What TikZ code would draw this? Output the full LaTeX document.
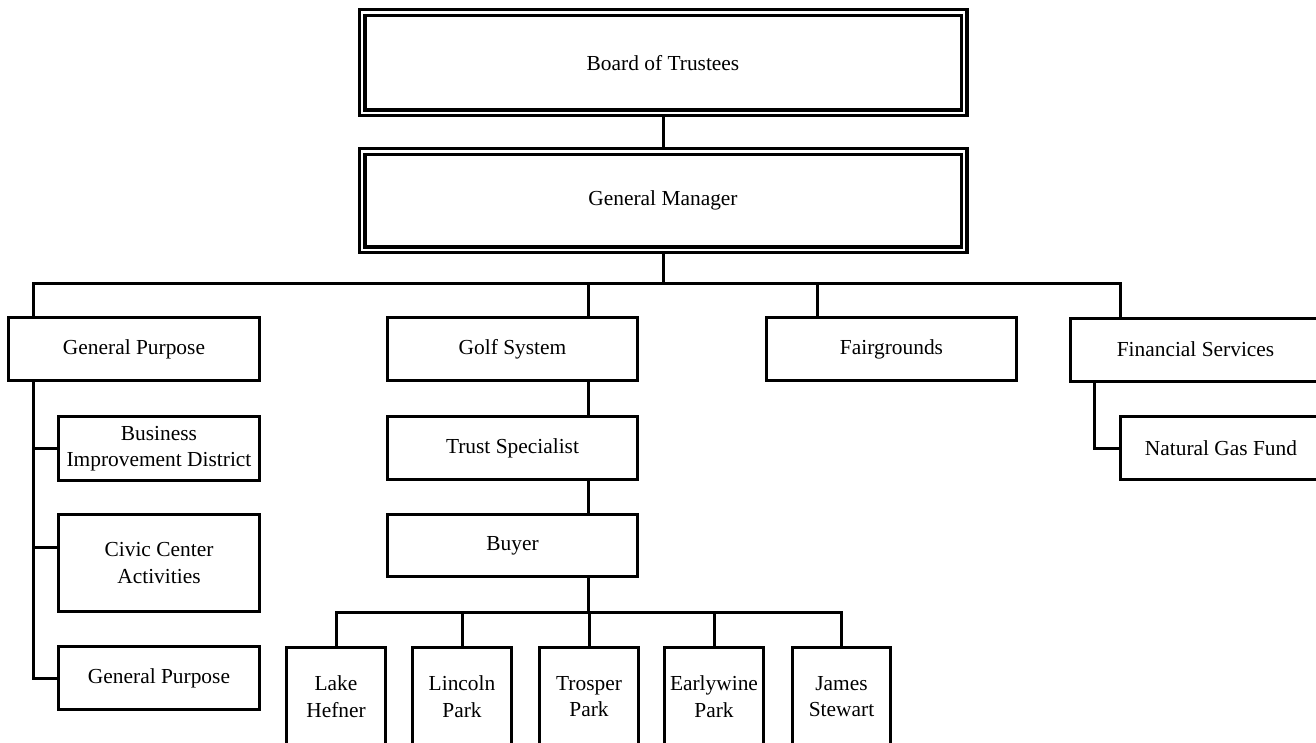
\documentclass[tikz,border=0pt]{standalone}
\usepackage{fontspec}
\setmainfont{Liberation Serif}
\usetikzlibrary{backgrounds}
\begin{document}
\begin{tikzpicture}[x=1pt,y=-1pt,
  box/.style={draw, line width=3pt, rectangle, align=center, inner sep=2pt,
    font=\fontsize{21.4}{26.5}\selectfont},
  dbox/.style={draw, line width=3.2pt, double, double distance=2.6pt, rectangle,
    align=center, inner sep=2pt, font=\fontsize{21.4}{26.5}\selectfont},
  conn/.style={line width=3pt, line join=miter}]
\clip (0,0) rectangle (1316,742);
% top
\node[dbox, minimum width=602pt, minimum height=100.5pt] (board) at (663,62.7) {Board of Trustees};
\node[dbox, minimum width=602pt, minimum height=98.3pt] (gm) at (663,200.8) {General Manager};
% level 2
\node[box, minimum width=251pt, minimum height=63pt] (gp) at (134,349) {General Purpose};
\node[box, minimum width=250pt, minimum height=63pt] (golf) at (512.5,349) {Golf System};
\node[box, minimum width=250pt, minimum height=63pt] (fair) at (891.5,349) {Fairgrounds};
\node[box, minimum width=250pt, minimum height=63pt] (fs) at (1195.5,349.5) {Financial Services};
% left column
\node[box, minimum width=201pt, minimum height=64pt] (bid) at (159,448.5) {Business\\Improvement District};
\node[box, minimum width=201pt, minimum height=97pt] (civic) at (159,563) {Civic Center\\Activities};
\node[box, minimum width=201pt, minimum height=63pt] (gp2) at (159,678) {General Purpose};
% golf column
\node[box, minimum width=250pt, minimum height=63pt] (trust) at (512.5,448) {Trust Specialist};
\node[box, minimum width=250pt, minimum height=62pt] (buyer) at (512.5,545.5) {Buyer};
% right
\node[box, minimum width=201pt, minimum height=63pt] (ngf) at (1221,448) {Natural Gas Fund};
% bottom row
\node[box, minimum width=99pt, minimum height=98.5pt] (lake) at (336,696.7) {Lake\\Hefner};
\node[box, minimum width=99pt, minimum height=98.5pt] (lincoln) at (462,696.7) {Lincoln\\Park};
\node[box, minimum width=99pt, minimum height=98.5pt] (trosper) at (589,696.7) {Trosper\\Park};
\node[box, minimum width=99pt, minimum height=98.5pt] (early) at (714,696.7) {Earlywine\\Park};
\node[box, minimum width=98pt, minimum height=98.5pt] (james) at (841.5,696.7) {James\\Stewart};
% junction coordinates
\coordinate (busL) at (33,283);
\coordinate (busR) at (1120,283);
\coordinate (busM) at (663,283);
\coordinate (golfx) at (588,283);
\coordinate (fairx) at (817,283);
\coordinate (civy) at (33,547);
\coordinate (fsx) at (1094,383);
\coordinate (bb) at (588,612.5);
\begin{scope}[on background layer]
\fill[white] (0,0) rectangle (1316,742);
\draw[conn] (board.south) -- (gm.north);
\draw[conn] (gm.south) -- (busM);
\draw[conn] (busL |- gp.north) -- (busL) -- (busR) -- (busR |- fs.north);
\draw[conn] (golfx) -- (golfx |- golf.north);
\draw[conn] (fairx) -- (fairx |- fair.north);
% left spine
\draw[conn] (busL |- gp.south) -- (busL |- gp2.west) -- (gp2.west);
\draw[conn] (busL |- bid.west) -- (bid.west);
\draw[conn] (civy) -- (civy -| civic.west);
% golf chain
\draw[conn] (golfx |- golf.south) -- (golfx |- trust.north);
\draw[conn] (golfx |- trust.south) -- (golfx |- buyer.north);
\draw[conn] (golfx |- buyer.south) -- (bb);
\draw[conn] (lake.north) -- (lake.north |- bb) -- (james.north |- bb) -- (james.north);
\draw[conn] (lincoln.north |- bb) -- (lincoln.north);
\draw[conn] (trosper.north |- bb) -- (trosper.north);
\draw[conn] (early.north |- bb) -- (early.north);
% financial services
\draw[conn] (fsx |- fs.south) -- (fsx |- ngf.west) -- (ngf.west);
\end{scope}
\end{tikzpicture}
\end{document}
